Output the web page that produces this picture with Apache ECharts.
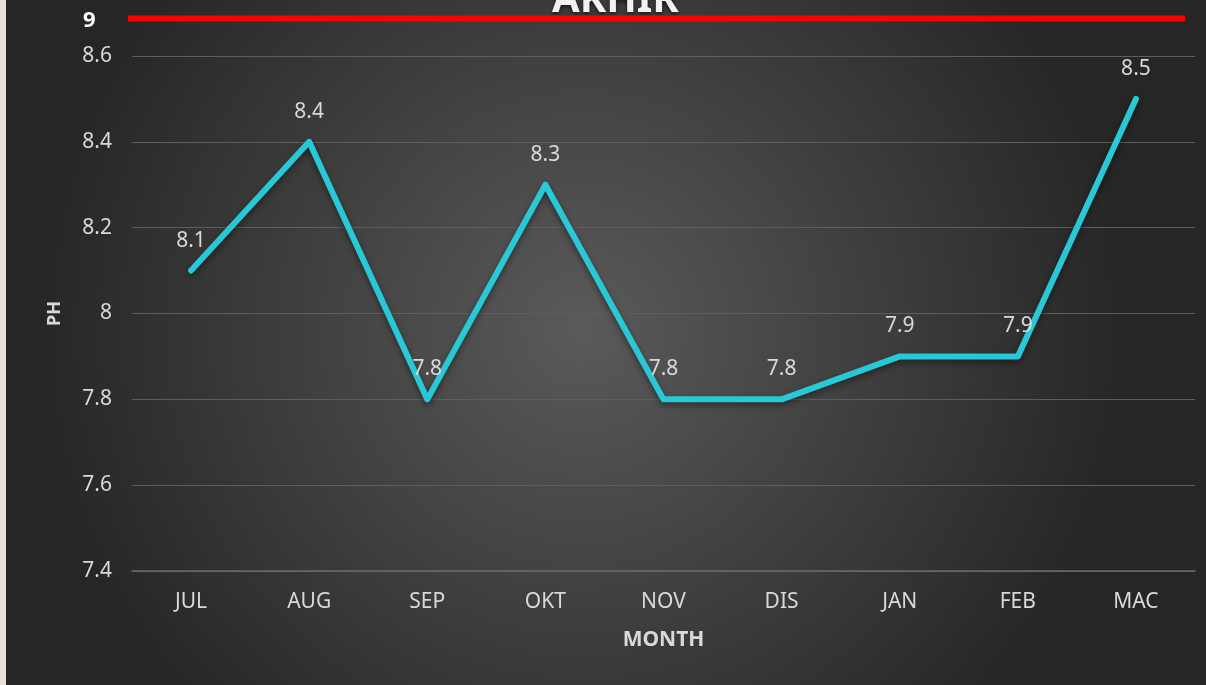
<!DOCTYPE html>
<html>
<head>
<meta charset="utf-8">
<script src="https://cdn.jsdelivr.net/npm/echarts@6/dist/echarts.min.js"></script>
<style>
  html, body { margin: 0; padding: 0; background: #e7e1d6; }
  #chart { position: absolute; left: 6px; top: 0; width: 1200px; height: 685px; }
</style>
</head>
<body>
<div id="chart"></div>
<script>
// data
const months = ['JUL', 'AUG', 'SEP', 'OKT', 'NOV', 'DIS', 'JAN', 'FEB', 'MAC']
const phValues = [8.1, 8.4, 7.8, 8.3, 7.8, 7.8, 7.9, 7.9, 8.5]
const yTicks = { min: 7.4, max: 8.6, step: 0.2 }
const limitLabel = '9'

const font = 'Noto Sans'
const chart = echarts.init(document.getElementById('chart'))

chart.setOption({
  backgroundColor: {
    type: 'radial', x: 0.48, y: 0.48, r: 0.8,
    colorStops: [
      { offset: 0, color: '#5a5a5a' },
      { offset: 1, color: '#262626' }
    ]
  },
  title: {
    text: 'AKHIR',
    left: 541,
    top: -24,
    textStyle: {
      color: '#f2f2f2', fontFamily: font, fontWeight: 'bold', fontSize: 40,
      textShadowColor: 'rgba(0,0,0,0.6)', textShadowBlur: 4, textShadowOffsetY: 2
    }
  },
  // batas merah (9)
  graphic: [
    {
      type: 'line',
      shape: { x1: 122, y1: 18.5, x2: 1179, y2: 18.5 },
      style: { stroke: '#ff0000', lineWidth: 6 },
      z: 10
    },
    {
      type: 'text',
      left: 77, top: 10,
      style: { text: limitLabel, fill: '#ffffff', font: 'bold 22px "Noto Sans"' },
      z: 10
    }
  ],
  grid: { left: 126, right: 11, top: 56, bottom: 114 },
  xAxis: {
    type: 'category',
    data: months,
    name: 'MONTH',
    nameLocation: 'middle',
    nameGap: 59,
    nameTextStyle: { color: '#d9d9d9', fontFamily: font, fontWeight: 'bold', fontSize: 21 },
    axisLine: { lineStyle: { color: '#6a6a6a', width: 1.5 } },
    axisTick: { show: false },
    axisLabel: { color: '#d9d9d9', fontFamily: font, fontSize: 21, margin: 21 }
  },
  yAxis: {
    type: 'value',
    min: yTicks.min,
    max: yTicks.max,
    interval: yTicks.step,
    name: 'PH',
    nameLocation: 'middle',
    nameGap: 68,
    nameTextStyle: { color: '#d9d9d9', fontFamily: font, fontWeight: 'bold', fontSize: 18 },
    axisLine: { show: false },
    axisTick: { show: false },
    axisLabel: {
      color: '#d9d9d9', fontFamily: font, fontSize: 21, margin: 20,
      formatter: v => String(Math.round(v * 10) / 10)
    },
    splitLine: { lineStyle: { color: '#5e5e5e', width: 1 } }
  },
  series: [{
    type: 'line',
    data: phValues,
    symbol: 'circle',
    symbolSize: 1,
    lineStyle: { color: '#29c8d6', width: 6, cap: 'round', join: 'round',
      shadowColor: 'rgba(0,0,0,0.45)', shadowBlur: 6, shadowOffsetY: 3 },
    itemStyle: { color: 'transparent' },
    label: {
      show: true, position: 'top', distance: 19,
      color: '#d9d9d9', fontFamily: font, fontSize: 21
    },
    z: 5
  }]
})
</script>
</body>
</html>
